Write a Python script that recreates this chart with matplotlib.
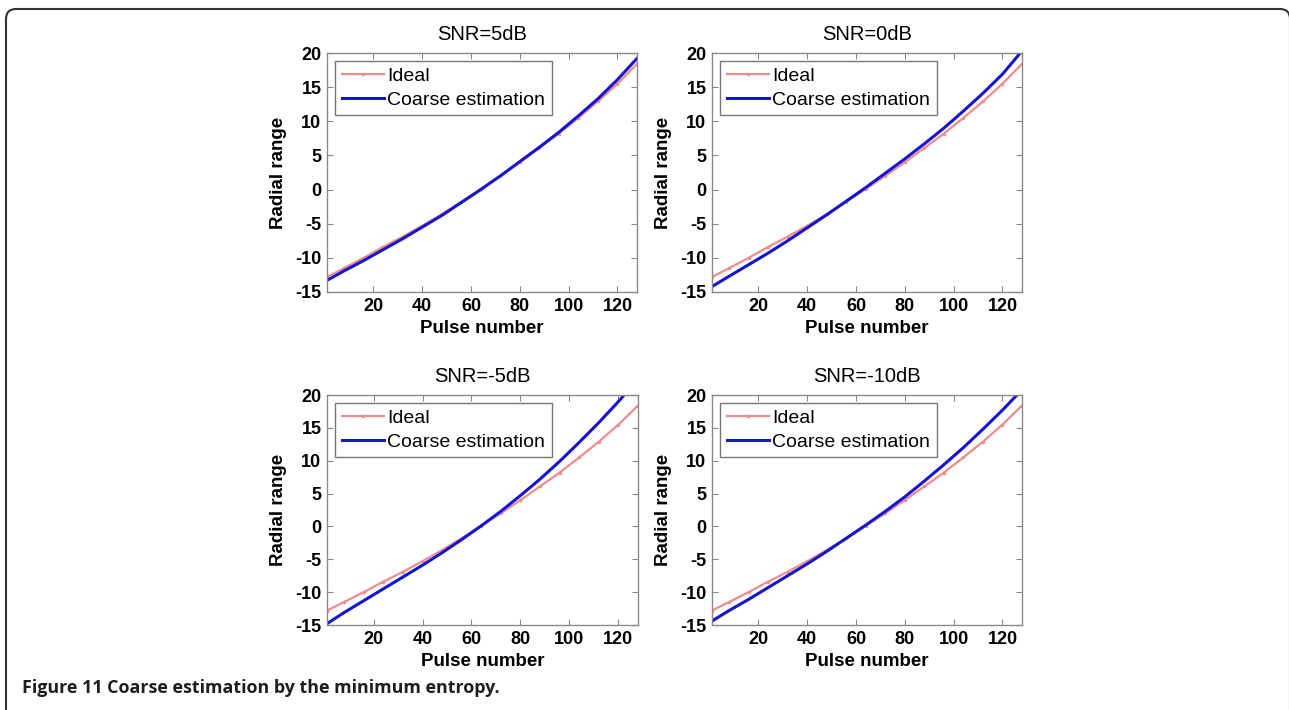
import matplotlib.pyplot as plt
from matplotlib.patches import FancyBboxPatch
from matplotlib.transforms import IdentityTransform

plt.rcParams['font.family'] = ['Liberation Sans', 'DejaVu Sans']
plt.rcParams['axes.unicode_minus'] = False

pulse = [1, 8, 16, 24, 32, 40, 48, 56, 64, 72, 80, 88, 96, 104, 112, 120, 128]

ideal = [-12.8, -11.5, -10.0, -8.4, -6.9, -5.3, -3.6, -1.8, 0.1, 2.0,
         4.0, 6.1, 8.2, 10.5, 12.9, 15.5, 18.4]

coarse_5db = [-13.3, -11.9, -10.4, -8.8, -7.2, -5.5, -3.8, -1.9, 0.0, 2.0,
              4.1, 6.2, 8.4, 10.8, 13.3, 16.1, 19.2]
coarse_0db = [-14.2, -12.7, -11.0, -9.3, -7.5, -5.6, -3.7, -1.7, 0.3, 2.4,
              4.5, 6.7, 9.0, 11.5, 14.1, 16.9, 20.3]
coarse_m5db = [-14.8, -13.1, -11.3, -9.5, -7.7, -5.9, -4.0, -2.0, 0.1, 2.3,
               4.7, 7.2, 9.9, 12.8, 15.8, 19.0, 22.4]
coarse_m10db = [-14.4, -12.8, -11.1, -9.3, -7.5, -5.7, -3.8, -1.8, 0.2, 2.3,
                4.5, 6.9, 9.4, 12.0, 14.8, 17.7, 20.8]

titles = ["SNR=5dB", "SNR=0dB", "SNR=-5dB", "SNR=-10dB"]
coarse = [coarse_5db, coarse_0db, coarse_m5db, coarse_m10db]

W, H = 1289, 710
# axes boxes in pixels: left, right, top, bottom
boxes = [(327, 637, 53, 292), (712, 1022, 53, 292),
         (327, 638, 395, 625), (712, 1022, 395, 625)]

fig = plt.figure(figsize=(W / 100, H / 100), dpi=100)
fig.patch.set_facecolor('white')

for box, title, est in zip(boxes, titles, coarse):
    l, r, t, b = box
    ax = fig.add_axes([l / W, 1 - b / H, (r - l) / W, (b - t) / H])
    ax.plot(pulse, ideal, color='#f08c8c', lw=1.6, marker='.', markersize=3,
            label='Ideal')
    ax.plot(pulse, est, color='#1414d2', lw=2.2, label='Coarse estimation')
    ax.set_xlim(1, 128)
    ax.set_ylim(-15, 20)
    ax.set_xticks([20, 40, 60, 80, 100, 120])
    ax.set_yticks([-15, -10, -5, 0, 5, 10, 15, 20])
    ax.tick_params(direction='in', top=True, right=True, length=4,
                   color='#888888', labelsize=13, pad=4)
    for lab in ax.get_xticklabels() + ax.get_yticklabels():
        lab.set_fontweight('bold')
    for sp in ax.spines.values():
        sp.set_color('#8a8a8a')
        sp.set_linewidth(1.0)
    ax.set_title(title, fontsize=14.5, pad=9)
    ax.set_xlabel('Pulse number', fontsize=13.5, fontweight='bold', labelpad=4)
    ax.set_ylabel('Radial range', fontsize=13.5, fontweight='bold', labelpad=6)
    leg = ax.legend(loc='upper left', fontsize=14, fancybox=False,
                    edgecolor='#777777', framealpha=1, labelspacing=0.3,
                    borderpad=0.35, handlelength=2.2, handletextpad=0.15,
                    borderaxespad=0.4)
    leg.get_frame().set_linewidth(1.0)

fig.text(22 / W, 1 - 688 / H, 'Figure 11 Coarse estimation by the minimum entropy.',
         fontsize=12.9, fontweight='bold', family=['Open Sans', 'DejaVu Sans'],
         color='#1e1e1e', va='center', ha='left')

border = FancyBboxPatch((6, -30), 1284, H - 9 + 30,
                        boxstyle='round,pad=0,rounding_size=10',
                        transform=IdentityTransform(), fill=False,
                        edgecolor='#333333', lw=1.5)
fig.add_artist(border)

fig.savefig('out.png', dpi=100)
